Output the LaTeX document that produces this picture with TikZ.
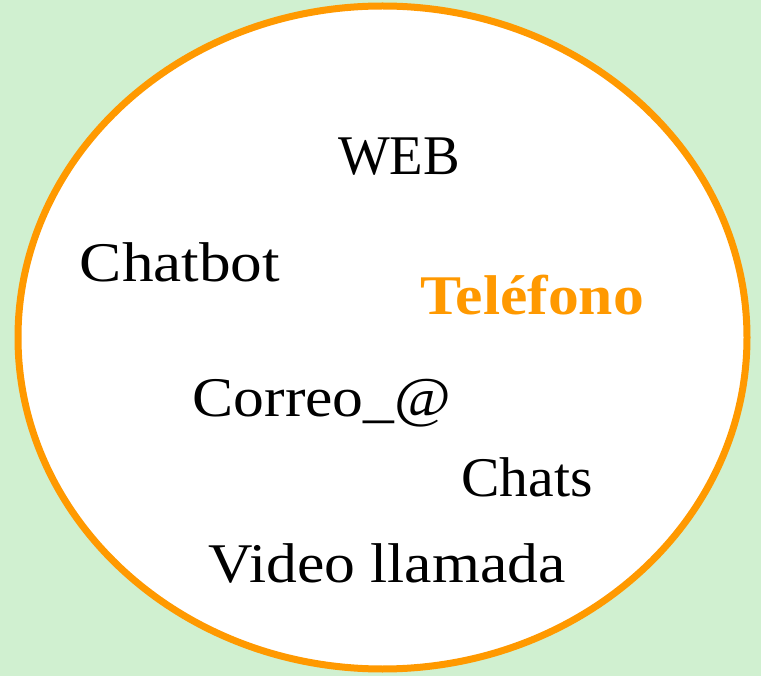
\documentclass[tikz,border=0pt]{standalone}
\usepackage{fontspec}
\setmainfont{Liberation Serif}
\newfontfamily\widea[FakeStretch=1.13]{Liberation Serif}
\newfontfamily\wideb[FakeStretch=1.10]{Liberation Serif}
\newfontfamily\widec[FakeStretch=1.03]{Liberation Serif}
\newfontfamily\narrowa[FakeStretch=0.98]{Liberation Serif}
\usetikzlibrary{shapes.geometric}
\definecolor{bgg}{HTML}{D0F0D0}
\definecolor{org}{HTML}{FF9900}
\begin{document}
\begin{tikzpicture}[x=1pt,y=-1pt,
  lbl/.style={inner sep=0pt,text=black},
  hot/.style={inner sep=0pt,text=org}]
\fill[bgg] (0,0) rectangle (761,676);
\useasboundingbox (0,0) rectangle (761,676);
\node[draw=org,line width=7pt,fill=white,ellipse,minimum width=729pt,minimum height=663pt,inner sep=0pt] (ring) at (382.5,337.5) {};
\node[lbl,font=\narrowa\fontsize{56}{60}\selectfont] (web) at (399,157) {WEB};
\node[lbl,font=\widea\fontsize{56}{60}\selectfont] (chatbot) at (180,262) {Chatbot};
\node[hot,font=\wideb\fontsize{56}{60}\selectfont\bfseries] (tel) at (532,295) {Teléfono};
\node[lbl,font=\wideb\fontsize{56}{60}\selectfont] (correo) at (322,403) {Correo\_@};
\node[lbl,font=\widec\fontsize{56}{60}\selectfont] (chats) at (527,477) {Chats};
\node[lbl,font=\wideb\fontsize{56}{60}\selectfont] (video) at (387,563) {Video llamada};
\end{tikzpicture}
\end{document}
